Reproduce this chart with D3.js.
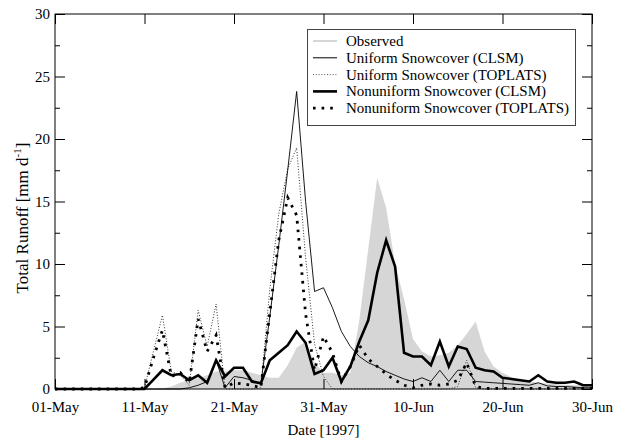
<!DOCTYPE html>
<html>
<head>
<meta charset="utf-8">
<script src="https://cdn.jsdelivr.net/npm/d3@7"></script>
<style>
  html, body { margin: 0; padding: 0; background: #fff; }
  svg { display: block; font-family: "Liberation Serif", "Times New Roman", serif; }
</style>
</head>
<body>
<svg id="chart" width="619" height="438"></svg>
<script>
// Daily runoff, 1 May – 30 Jun 1997 (mm/day), one value per day
const startDate = new Date(1997, 4, 1);
const dayCount = 61;

const observed = [
  0, 0, 0, 0, 0, 0, 0, 0, 0, 0,
  0, 0, 0.05, 0.2, 0.5, 0.7, 0.9, 1.1, 1.4, 1.4,
  1.5, 1.5, 1.3, 1.1, 0.9, 0.9, 1.9, 3.3, 3.8, 2.1,
  1.3, 1.3, 1.1, 1.3, 5.5, 11.2, 16.9, 14.5, 10.0, 7.2,
  4.0, 3.0, 2.6, 2.7, 2.9, 3.5, 4.4, 5.4, 3.0, 1.8,
  1.3, 0.95, 0.75, 0.6, 0.5, 0.45, 0.4, 0.35, 0.3, 0.3,
  0.25
];

const uniformCLSM = [
  0, 0, 0, 0, 0, 0, 0, 0, 0, 0,
  0, 0, 0, 0, 0, 0.1, 0.3, 0.6, 2.3, 0.1,
  1.0, 0.9, 0.7, 0.4, 5.8, 11.5, 17.5, 23.8, 15.0, 7.8,
  8.1, 6.5, 4.6, 3.4, 2.6, 2.1, 1.8, 1.4, 1.1, 0.8,
  0.6, 0.9, 0.6, 1.5, 0.6, 1.5, 1.5, 0.6, 0.55, 0.5,
  0.45, 0.4, 0.35, 0.3, 0.5, 0.25, 0.2, 0.2, 0.15, 0.1,
  0.1
];

const uniformTOPLATS = [
  0, 0, 0, 0, 0, 0, 0, 0, 0, 0,
  0.1, 3.0, 5.9, 1.4, 1.1, 0.3, 6.3, 3.4, 6.8, 0,
  0, 0, 0, 0.1, 8.0, 14.0, 17.6, 19.3, 10.5, 3.6,
  1.0, 0, 0, 0, 0, 0, 0, 0, 0, 0,
  0, 0, 0, 0, 0, 0.2, 2.3, 0.1, 0, 0,
  0, 0, 0, 0, 0, 0, 0, 0, 0, 0,
  0
];

const nonuniformCLSM = [
  0, 0, 0, 0, 0, 0, 0, 0, 0, 0,
  0, 0.75, 1.5, 1.1, 1.2, 0.7, 1.1, 0.5, 2.3, 1.0,
  1.7, 1.7, 0.6, 0.45, 2.3, 2.9, 3.5, 4.6, 3.7, 1.2,
  1.5, 2.5, 0.6, 1.8, 3.8, 5.5, 9.3, 11.9, 9.8, 2.9,
  2.6, 2.6, 1.9, 3.8, 1.8, 3.4, 3.2, 1.7, 1.5, 1.4,
  0.9, 0.8, 0.7, 0.6, 1.1, 0.6, 0.5, 0.5, 0.6, 0.3,
  0.3
];

const nonuniformTOPLATS = [
  0, 0, 0, 0, 0, 0, 0, 0, 0, 0,
  0.1, 2.5, 4.7, 1.0, 1.3, 0.5, 5.6, 3.0, 4.3, 0.1,
  0.5, 0.4, 0.3, 0.1, 6.1, 11.9, 15.3, 13.9, 6.0, 1.5,
  4.2, 2.9, 0.6, 1.8, 3.5, 2.4, 1.8, 1.2, 0.7, 0.3,
  0.1, 0.3, 0.4, 0.3, 0.4, 0.7, 2.1, 0.2, 0.05, 0.05,
  0.05, 0.05, 0.05, 0.05, 0.05, 0.05, 0.05, 0.05, 0.05, 0.05,
  0.05
];

const xTickDates = ["1997-05-01", "1997-05-11", "1997-05-21", "1997-05-31",
                    "1997-06-10", "1997-06-20", "1997-06-30"];
const yTicks = [0, 5, 10, 15, 20, 25, 30];
const yMinorTicks = [2.5, 7.5, 12.5, 17.5, 22.5, 27.5];

const legendLabels = [
  "Observed",
  "Uniform Snowcover (CLSM)",
  "Uniform Snowcover (TOPLATS)",
  "Nonuniform Snowcover (CLSM)",
  "Nonuniform Snowcover (TOPLATS)"
];

// ---- layout ----
const svg = d3.select("#chart");
const W = 619, H = 438;
const margin = { top: 14, right: 27, bottom: 49, left: 55 };
const innerW = W - margin.left - margin.right;
const innerH = H - margin.top - margin.bottom;
const fontSize = 15;

const dates = d3.range(dayCount).map(i => d3.timeDay.offset(startDate, i));
const parse = d3.timeParse("%Y-%m-%d");

const x = d3.scaleTime()
  .domain([dates[0], dates[dayCount - 1]])
  .range([0, innerW]);
const y = d3.scaleLinear().domain([0, 30]).range([innerH, 0]);

const g = svg.append("g").attr("transform", `translate(${margin.left},${margin.top})`);

// observed runoff as a grey filled area
const area = d3.area()
  .x((d, i) => x(dates[i]))
  .y0(y(0))
  .y1(d => y(d));
g.append("path").datum(observed)
  .attr("d", area)
  .attr("fill", "#d6d6d6");

const line = d3.line()
  .x((d, i) => x(dates[i]))
  .y(d => y(d));

const seriesStyles = [
  { data: uniformTOPLATS, stroke: "#333", width: 1, dash: "1,1.8" },
  { data: uniformCLSM, stroke: "#000", width: 0.9, dash: null },
  { data: nonuniformTOPLATS, stroke: "#000", width: 2.8, dash: "2.6,6" },
  { data: nonuniformCLSM, stroke: "#000", width: 2.6, dash: null }
];

seriesStyles.forEach(s => {
  g.append("path").datum(s.data)
    .attr("d", line)
    .attr("fill", "none")
    .attr("stroke", s.stroke)
    .attr("stroke-width", s.width)
    .attr("stroke-linejoin", "miter")
    .attr("stroke-dasharray", s.dash);
});

// ---- axes: ticks point inward on all four sides ----
const fmt = d3.timeFormat("%d-%b");
const xTicks = xTickDates.map(parse);

const xAxis = g.append("g")
  .attr("transform", `translate(0,${innerH})`)
  .call(d3.axisBottom(x).tickValues(xTicks).tickFormat(fmt)
    .tickSizeInner(-10).tickSizeOuter(0).tickPadding(12));
const xTop = g.append("g")
  .call(d3.axisTop(x).tickValues(xTicks).tickFormat("")
    .tickSizeInner(-10).tickSizeOuter(0));

const yAxis = g.append("g")
  .call(d3.axisLeft(y).tickValues(yTicks).tickFormat(d3.format("d"))
    .tickSizeInner(-10).tickSizeOuter(0).tickPadding(5));
const yMinor = g.append("g")
  .call(d3.axisLeft(y).tickValues(yMinorTicks).tickFormat("")
    .tickSizeInner(-5).tickSizeOuter(0));
const yRight = g.append("g")
  .attr("transform", `translate(${innerW},0)`)
  .call(d3.axisRight(y).tickValues(yTicks).tickFormat("")
    .tickSizeInner(-10).tickSizeOuter(0));
const yRightMinor = g.append("g")
  .attr("transform", `translate(${innerW},0)`)
  .call(d3.axisRight(y).tickValues(yMinorTicks).tickFormat("")
    .tickSizeInner(-5).tickSizeOuter(0));

[xAxis, xTop, yAxis, yMinor, yRight, yRightMinor].forEach(a => {
  a.select(".domain").remove();
  a.selectAll("line").attr("stroke", "#000").attr("stroke-width", 1);
  a.selectAll("text")
    .attr("font-family", "Liberation Serif, Times New Roman, serif")
    .attr("font-size", fontSize)
    .attr("fill", "#000");
});

// plot frame
g.append("rect")
  .attr("x", 0).attr("y", 0)
  .attr("width", innerW).attr("height", innerH)
  .attr("fill", "none")
  .attr("stroke", "#000")
  .attr("stroke-width", 1);

// axis titles
svg.append("text")
  .attr("x", margin.left + innerW / 2)
  .attr("y", 435)
  .attr("text-anchor", "middle")
  .attr("font-size", fontSize)
  .text("Date [1997]");

const yTitle = svg.append("text")
  .attr("transform", "translate(28,218) rotate(-90)")
  .attr("text-anchor", "middle")
  .attr("font-size", 17);
yTitle.append("tspan").text("Total Runoff [mm d");
yTitle.append("tspan").attr("font-size", 11).attr("dy", -7).text("-1");
yTitle.append("tspan").attr("dy", 7).text("]");

// ---- legend ----
const legend = svg.append("g");
legend.append("rect")
  .attr("x", 307.5).attr("y", 29.5)
  .attr("width", 268).attr("height", 96)
  .attr("fill", "#fff")
  .attr("stroke", "#444")
  .attr("stroke-width", 1);

const legendStyles = [
  { stroke: "#d6d6d6", width: 2, dash: null },
  { stroke: "#000", width: 1, dash: null },
  { stroke: "#555", width: 1, dash: "1,1.8" },
  { stroke: "#000", width: 2.6, dash: null },
  { stroke: "#000", width: 2.8, dash: "2.6,6" }
];

legendLabels.forEach((label, i) => {
  const ly = 41 + i * 16.8;
  const st = legendStyles[i];
  legend.append("line")
    .attr("x1", 313).attr("x2", 337)
    .attr("y1", ly).attr("y2", ly)
    .attr("stroke", st.stroke)
    .attr("stroke-width", st.width)
    .attr("stroke-dasharray", st.dash);
  legend.append("text")
    .attr("x", 346).attr("y", ly + 5)
    .attr("font-size", fontSize)
    .text(label);
});
</script>
</body>
</html>
